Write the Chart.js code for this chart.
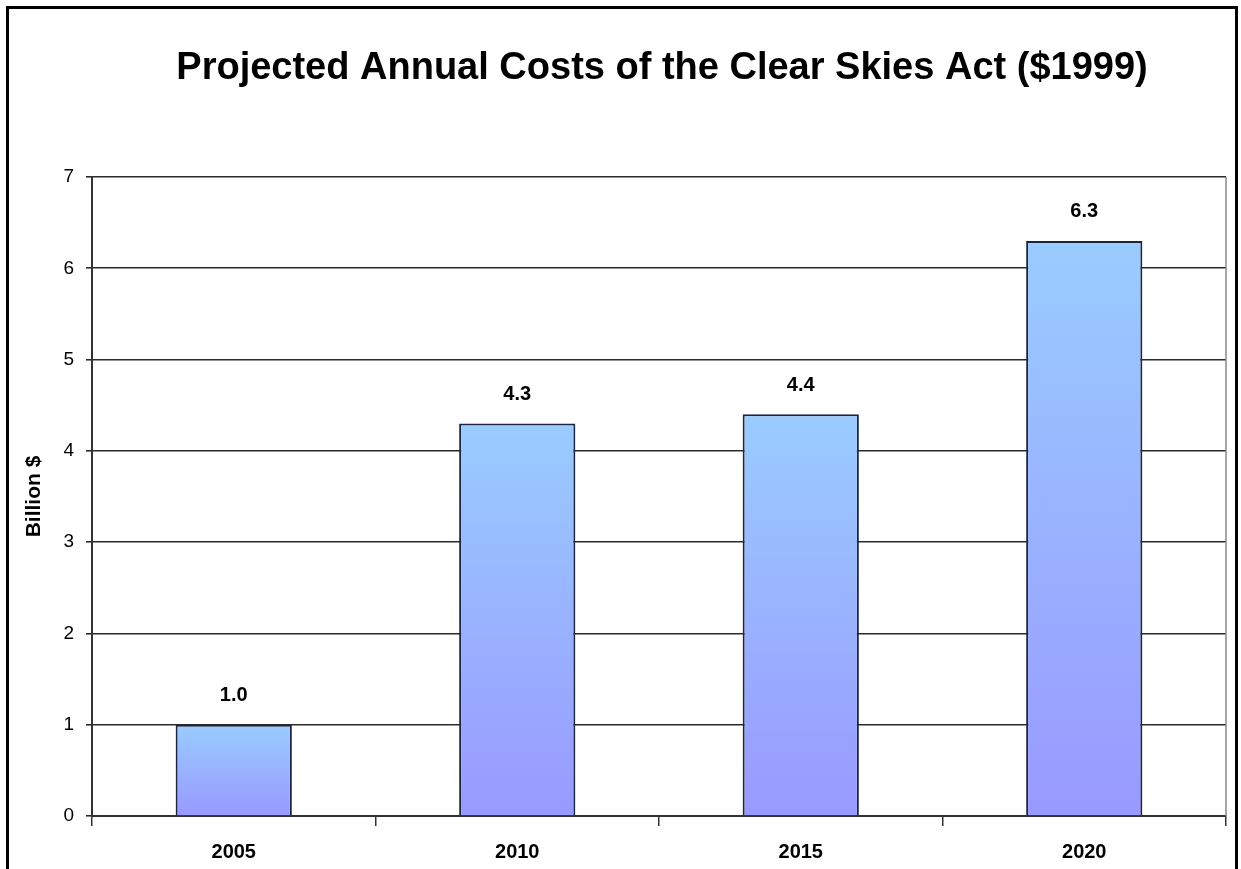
<!DOCTYPE html>
<html>
<head>
<meta charset="utf-8">
<script src="https://cdn.jsdelivr.net/npm/chart.js@4/dist/chart.umd.min.js"></script>
<style>
  body { margin: 0; background: #fff; }
  #wrap { position: relative; width: 1241px; height: 869px; overflow: hidden; }
  #frame {
    position: absolute; left: 6px; top: 6px; width: 1226px; height: 900px;
    border: 3px solid #000; pointer-events: none;
  }
</style>
</head>
<body>
<div id="wrap">
  <canvas id="chart" width="1241" height="869"></canvas>
  <div id="frame"></div>
</div>
<script>
const years = ["2005", "2010", "2015", "2020"];
const costs = [1.0, 4.3, 4.4, 6.3];
const yTicks = [0, 1, 2, 3, 4, 5, 6, 7];
const chartTitle = "Projected Annual Costs of the Clear Skies Act ($1999)";
const yTitle = "Billion $";

const FONT = "'Liberation Sans', Arial, sans-serif";

function barGradient(ctx) {
  const chart = ctx.chart;
  if (!chart.chartArea || ctx.raw === undefined) return "#99ccff";
  const y = chart.scales.y;
  const top = y.getPixelForValue(ctx.raw);
  const bottom = y.getPixelForValue(0);
  const g = chart.ctx.createLinearGradient(0, top, 0, bottom);
  g.addColorStop(0, "#99ccff");
  g.addColorStop(1, "#9999ff");
  return g;
}

// title is centred over the plot area, not the whole canvas
const plotTitle = {
  id: "plotTitle",
  afterDraw(chart) {
    const { left, right } = chart.chartArea;
    const c = chart.ctx;
    c.save();
    c.font = "bold 38px " + FONT;
    c.fillStyle = "#000";
    c.textAlign = "center";
    c.textBaseline = "middle";
    c.fillText(chartTitle, (left + right) / 2 + 3, 69);
    c.restore();
  },
};

const valueLabels = {
  id: "valueLabels",
  afterDatasetsDraw(chart) {
    const c = chart.ctx;
    c.save();
    c.font = "bold 20px " + FONT;
    c.fillStyle = "#000";
    c.textAlign = "center";
    c.textBaseline = "middle";
    chart.getDatasetMeta(0).data.forEach((bar, i) => {
      c.fillText(costs[i].toFixed(1), bar.x, bar.y - 29);
    });
    c.restore();
  },
};

const plotEdge = {
  id: "plotEdge",
  afterDraw(chart) {
    const { right, top, bottom } = chart.chartArea;
    const c = chart.ctx;
    c.save();
    c.strokeStyle = "#888";
    c.lineWidth = 1.5;
    c.beginPath();
    c.moveTo(right, top);
    c.lineTo(right, bottom);
    c.stroke();
    c.restore();
  },
};

new Chart(document.getElementById("chart"), {
  type: "bar",
  data: {
    labels: years,
    datasets: [
      {
        data: costs,
        backgroundColor: barGradient,
        borderColor: "#1c2540",
        borderWidth: 2,
        barPercentage: 0.41,
        categoryPercentage: 1,
      },
    ],
  },
  options: {
    responsive: false,
    animation: false,
    layout: { padding: { left: 22, right: 15, top: 177, bottom: 0 } },
    plugins: {
      legend: { display: false },
      tooltip: { enabled: false },
      title: { display: false },
    },
    scales: {
      x: {
        afterFit: (s) => { s.height = 53; },
        grid: { offset: true, drawOnChartArea: false, color: "#333", lineWidth: 1.5, tickLength: 10 },
        border: { color: "#333", width: 2 },
        ticks: {
          color: "#000",
          padding: 14,
          font: { family: FONT, size: 20, weight: "bold" },
        },
      },
      y: {
        min: 0,
        max: 7,
        afterFit: (s) => { s.width = 70; },
        afterBuildTicks: (s) => { s.ticks = yTicks.map((v) => ({ value: v })); },
        grid: { color: "#2a2a2a", lineWidth: 1.6, tickLength: 6 },
        border: { color: "#333", width: 2 },
        title: {
          display: true,
          text: yTitle,
          color: "#000",
          padding: 0,
          font: { family: FONT, size: 21, weight: "bold" },
        },
        ticks: {
          color: "#000",
          padding: 12,
          font: { family: FONT, size: 19 },
        },
      },
    },
  },
  plugins: [valueLabels, plotEdge, plotTitle],
});
</script>
</body>
</html>
